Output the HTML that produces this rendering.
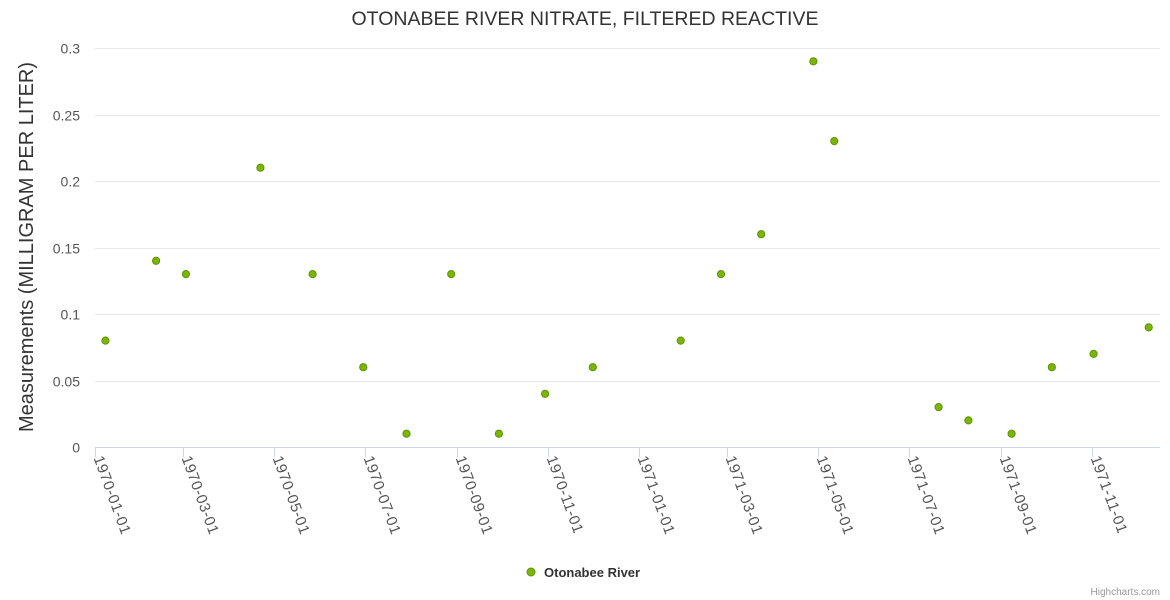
<!DOCTYPE html>
<html><head><meta charset="utf-8"><style>
body{margin:0;background:#fff;}
svg{display:block;font-family:"Liberation Sans",sans-serif;}
</style></head><body>
<svg id="chart" width="1170" height="600" viewBox="0 0 1170 600">
<text x="585" y="25" text-anchor="middle" font-size="19.5" fill="#333">OTONABEE RIVER NITRATE, FILTERED REACTIVE</text>
<text transform="translate(33,247) rotate(-90)" text-anchor="middle" font-size="20" fill="#333">Measurements (MILLIGRAM PER LITER)</text>
<g id="grid"></g><g id="xaxis"></g><g id="pts"></g>
<g>
<circle cx="531" cy="572" r="4" fill="#7cb50a" stroke="#5f9400" stroke-width="1"/>
<text x="544" y="577" font-size="13" font-weight="bold" fill="#333">Otonabee River</text>
</g>
<text x="1160" y="595" text-anchor="end" font-size="10" fill="#999">Highcharts.com</text>
</svg>
<script>
const dates=["1970-01-08","1970-02-11","1970-03-03","1970-04-22","1970-05-27","1970-06-30","1970-07-29","1970-08-28","1970-09-29","1970-10-30","1970-12-01","1971-01-29","1971-02-25","1971-03-24","1971-04-28","1971-05-12","1971-07-21","1971-08-10","1971-09-08","1971-10-05","1971-11-02","1971-12-09"];
const values=[0.08,0.14,0.13,0.21,0.13,0.06,0.01,0.13,0.01,0.04,0.06,0.08,0.13,0.16,0.29,0.23,0.03,0.02,0.01,0.06,0.07,0.09];
const yTicks=[0,0.05,0.1,0.15,0.2,0.25,0.3];
const xTicks=["1970-01-01","1970-03-01","1970-05-01","1970-07-01","1970-09-01","1970-11-01","1971-01-01","1971-03-01","1971-05-01","1971-07-01","1971-09-01","1971-11-01"];
const NS="http://www.w3.org/2000/svg";
const L=95,R=1160,T=48,B=447;
const d0=Date.UTC(1970,0,1);
function day(s){const p=s.split("-");return (Date.UTC(+p[0],p[1]-1,+p[2])-d0)/864e5;}
function xs(s){return L+day(s)*544/365;}
function ys(v){return B-(v/0.3)*(B-T);}
function mk(tag,attrs,parent){const e=document.createElementNS(NS,tag);for(const k in attrs)e.setAttribute(k,attrs[k]);parent.appendChild(e);return e;}
const grid=document.getElementById("grid");
yTicks.forEach(v=>{
 const y=Math.round(ys(v))+0.5;
 if(v>0){const l=mk("line",{x1:L,x2:R,y1:y,y2:y,stroke:"#e6e6e6"},grid);
 
 }
 const t=mk("text",{x:80,y:y+5,"text-anchor":"end","font-size":14,fill:"#555"},grid);
 t.textContent=String(v);
 
 
});
const xa=document.getElementById("xaxis");
const al=mk("line",{x1:L,x2:R,y1:B+0.5,y2:B+0.5,stroke:"#ccd6eb"},xa);


xTicks.forEach(s=>{
 const x=Math.round(xs(s))+0.5;
 const tk=mk("line",{x1:x,x2:x,y1:B,y2:B+10,stroke:"#ccd6eb"},xa);
 
 
 const t=mk("text",{transform:`translate(${x-2},${B+11}) rotate(70)`,"font-size":15,"letter-spacing":"0.6",fill:"#555"},xa);
 t.textContent=s;
 
 
});
const pts=document.getElementById("pts");
dates.forEach((s,i)=>{
 const c=mk("circle",{cx:xs(s),cy:ys(values[i]),r:3.6,fill:"#7cb50a",stroke:"#5f9400","stroke-width":1},pts);
 
 
});
</script>
</body></html>
